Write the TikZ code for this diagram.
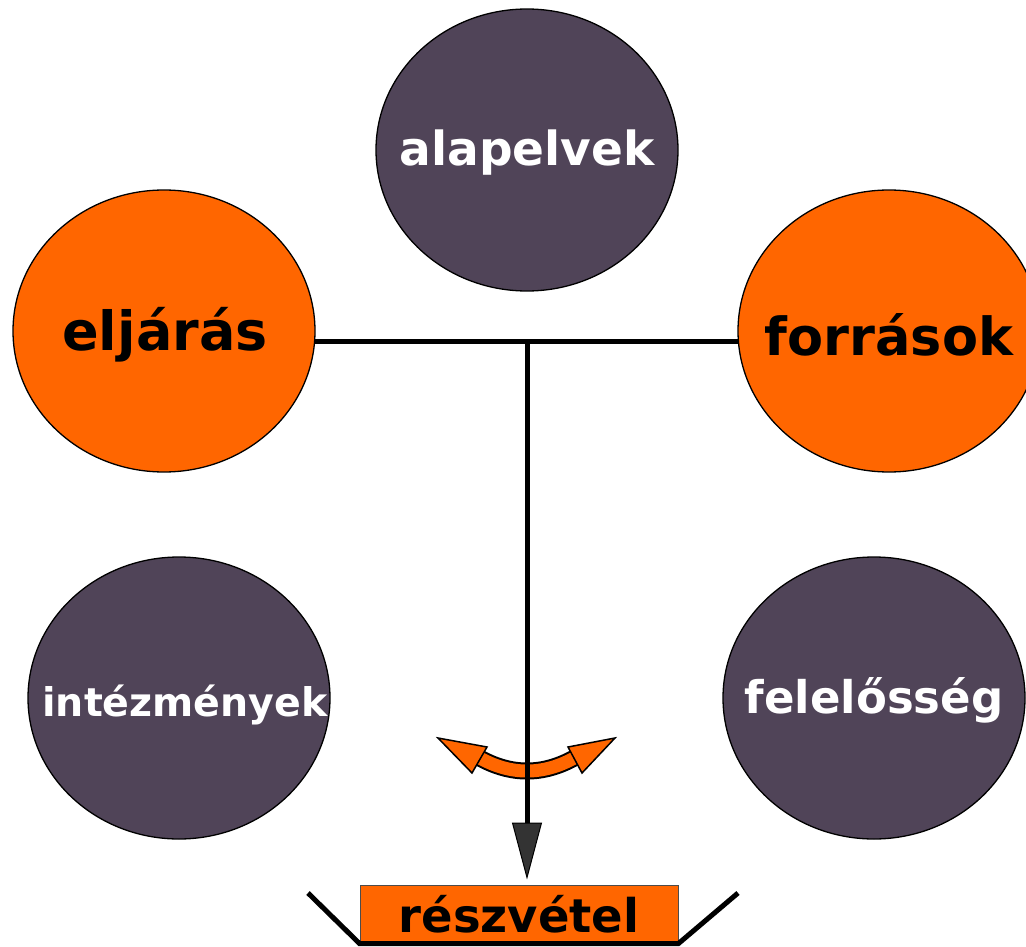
\documentclass[tikz,border=0pt]{standalone}
\usepackage{fontspec}
\setmainfont{DejaVu Sans}
\usetikzlibrary{shapes.geometric,arrows.meta}
\definecolor{orng}{HTML}{FF6600}
\definecolor{plum}{HTML}{504458}
\definecolor{tipgray}{HTML}{333333}
\tikzset{
  blob/.style={ellipse, draw=black, line width=1.3pt, minimum width=302pt, minimum height=282pt, inner sep=0pt},
  orangeblob/.style={blob, fill=orng},
  plumblob/.style={blob, fill=plum},
  txt/.style={font=\bfseries\fontsize{#1}{#1}\selectfont, inner sep=0pt},
  conn/.style={line width=5pt},
}
\begin{document}
\begin{tikzpicture}[x=1pt,y=-1pt]
\useasboundingbox (0,0) rectangle (1026,947);
\clip (0,0) rectangle (1026,947);
% circles
\node[plumblob] (alap) at (527,150) {};
\node[orangeblob] (eljar) at (164,331) {};
\node[orangeblob] (forr) at (889,331) {};
\node[plumblob] (intez) at (179,698) {};
\node[plumblob] (felel) at (874,698) {};
% texts
\node[txt=47pt, text=white] (alapT) at (527,153) {alapelvek};
\node[txt=54pt, text=black] (eljarT) at (165,335) {eljárás};
\node[txt=52.5pt, text=black] (forrT) at (889,335) {források};
\node[txt=39.5pt, text=white] (intezT) at (185,705) {intézmények};
\node[txt=45pt, text=white] (felelT) at (874,700) {felelősség};
% bottom box
\node[draw=black!70, line width=1pt, fill=orng, minimum width=318pt, minimum height=58pt, inner sep=0pt,
      font=\bfseries\fontsize{46.5pt}{46.5pt}\selectfont] (resz) at (519,914) {részvétel};
\coordinate (vl) at (308,893);
\coordinate (vr) at (738,893);
\draw[conn] (vl) -- (resz.south west) -- (resz.south east) -- (vr);
% curved double arrow
\coordinate (ca) at (478,757);
\coordinate (cb) at (576,757);
\draw[line width=17pt, black] (ca) .. controls (510.7,775.7) and (543.3,775.7) .. (cb);
\draw[line width=13pt, orng] (ca) .. controls (510.7,775.7) and (543.3,775.7) .. (cb);
\coordinate (lt) at (438,738);
\coordinate (rt) at (615,738);
\draw[fill=orng, line width=1.5pt, line join=miter] (lt) -- (487,747) -- (472,773) -- cycle;
\draw[fill=orng, line width=1.5pt, line join=miter] (rt) -- (568,747) -- (582,773) -- cycle;
% connectors
\coordinate (j) at (527,341);
\draw[conn] (eljar.-4) -- (forr.184);
\draw[conn, -{Triangle[length=57pt, width=30pt, fill=tipgray, line width=1pt]}, shorten >=5pt] (j) -- (resz.north -| j);
\end{tikzpicture}
\end{document}
